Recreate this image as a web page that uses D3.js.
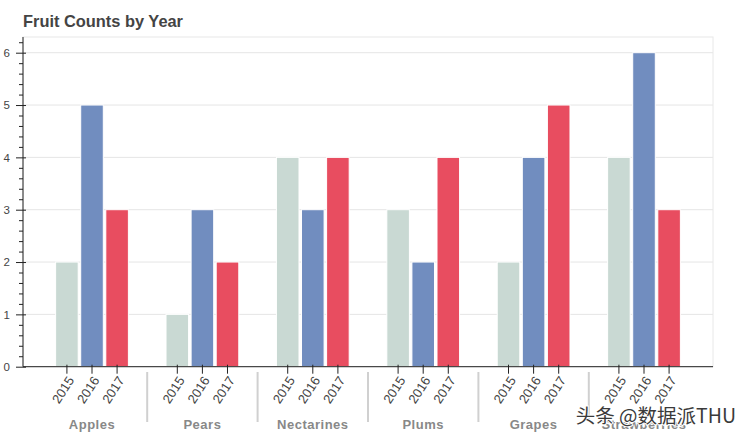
<!DOCTYPE html>
<html lang="en">
<head>
<meta charset="UTF-8">
<title>Fruit Counts by Year</title>
<script src="https://cdnjs.cloudflare.com/ajax/libs/d3/7.8.5/d3.min.js"></script>
<style>
  body { margin: 0; background: #fff; }
  svg { display: block; font-family: "Liberation Sans", Arial, Helvetica, sans-serif; }
</style>
</head>
<body>
<svg id="chart" width="750" height="437"></svg>
<script>
const fruits = ['Apples', 'Pears', 'Nectarines', 'Plums', 'Grapes', 'Strawberries'];
const years = ['2015', '2016', '2017'];
const counts2015 = [2, 1, 4, 3, 2, 4];
const counts2016 = [5, 3, 3, 2, 4, 6];
const counts2017 = [3, 2, 4, 4, 5, 3];
const yTicks = [0, 1, 2, 3, 4, 5, 6];
const colors = ['#c9d9d3', '#718dbf', '#e84d60'];

const series = [counts2015, counts2016, counts2017];
const rows = [];
fruits.forEach((f, i) => {
  years.forEach((yr, j) => rows.push({ fruit: f, year: yr, value: series[j][i], color: colors[j] }));
});

const svg = d3.select('#chart');
const plotLeft = 23, plotRight = 713, plotTop = 37, plotBottom = 366.7;

// factor range: range_padding 0.1, group padding 1.4
const x0 = d3.scaleBand()
  .domain(fruits)
  .range([plotLeft, plotRight])
  .paddingInner(1.4 / 4.4)
  .paddingOuter(1.25 / 4.4);

const x1 = d3.scaleBand()
  .domain(years)
  .range([0, x0.bandwidth()])
  .padding(0);

const y = d3.scaleLinear().domain([0, 6.3]).range([plotBottom, plotTop]);

// title
svg.append('text')
  .attr('x', 23).attr('y', 27)
  .attr('font-size', 16.4).attr('font-weight', 'bold')
  .attr('fill', '#444')
  .text('Fruit Counts by Year');

// grid
svg.append('g')
  .selectAll('line')
  .data(yTicks.slice(1))
  .enter().append('line')
  .attr('x1', plotLeft).attr('x2', plotRight)
  .attr('y1', d => y(d)).attr('y2', d => y(d))
  .attr('stroke', '#e5e5e5').attr('stroke-width', 1);

// frame outline
svg.append('rect')
  .attr('x', plotLeft).attr('y', plotTop)
  .attr('width', plotRight - plotLeft).attr('height', plotBottom - plotTop)
  .attr('fill', 'none').attr('stroke', '#e8e8e8').attr('stroke-width', 1);

// bars
const bw = x1.bandwidth() * 0.9;
svg.append('g')
  .selectAll('rect')
  .data(rows)
  .enter().append('rect')
  .attr('x', d => x0(d.fruit) + x1(d.year) + (x1.bandwidth() - bw) / 2)
  .attr('width', bw)
  .attr('y', d => y(d.value))
  .attr('height', d => y(0) - y(d.value))
  .attr('fill', d => d.color)
  .attr('stroke', '#fff').attr('stroke-width', 1);

// y axis
const minor = d3.range(0, 64, 2).map(v => v / 10).filter(v => v % 1 !== 0);
svg.append('g')
  .attr('transform', `translate(${plotLeft},0)`)
  .call(d3.axisLeft(y).tickValues(minor).tickSize(4).tickSizeOuter(0).tickFormat(''))
  .call(g => g.select('.domain').remove())
  .call(g => g.selectAll('line').attr('stroke', '#222'));

const yAxis = svg.append('g')
  .attr('transform', `translate(${plotLeft},0)`)
  .call(d3.axisLeft(y).tickValues(yTicks).tickSize(7).tickSizeOuter(0).tickPadding(6).tickFormat(d3.format('d')));
yAxis.select('.domain').attr('stroke', '#222').attr('d', `M0,${plotBottom}V${plotTop}`);
yAxis.selectAll('.tick line').attr('stroke', '#222').attr('x2', -7).attr('x1', 3);
yAxis.selectAll('.tick text').attr('font-size', 11.5).attr('fill', '#444')
  .attr('font-family', '"Liberation Sans", Arial, sans-serif');

// x axis
svg.append('line')
  .attr('x1', plotLeft).attr('x2', plotRight)
  .attr('y1', plotBottom).attr('y2', plotBottom)
  .attr('stroke', '#222');

const xt = svg.append('g')
  .selectAll('g')
  .data(rows)
  .enter().append('g')
  .attr('transform', d => `translate(${x0(d.fruit) + x1(d.year) + x1.bandwidth() / 2},${plotBottom})`);
xt.append('line').attr('y1', -2).attr('y2', 7).attr('stroke', '#222');
xt.append('text')
  .attr('transform', 'translate(4,11) rotate(-57)')
  .attr('text-anchor', 'end')
  .attr('dy', '0.35em')
  .attr('font-size', 13).attr('fill', '#444')
  .text(d => d.year);

// group separators
svg.append('g')
  .selectAll('line')
  .data(fruits.slice(1))
  .enter().append('line')
  .attr('x1', d => x0(d) - x0.step() * x0.paddingInner() / 2)
  .attr('x2', d => x0(d) - x0.step() * x0.paddingInner() / 2)
  .attr('y1', 372).attr('y2', 422)
  .attr('stroke', '#d0d0d0').attr('stroke-width', 2);

// group labels
svg.append('g')
  .selectAll('text')
  .data(fruits)
  .enter().append('text')
  .attr('x', d => x0(d) + x0.bandwidth() / 2)
  .attr('y', 429)
  .attr('text-anchor', 'middle')
  .attr('font-size', 13).attr('font-weight', 'bold')
  .attr('letter-spacing', 0.5)
  .attr('fill', '#888')
  .text(d => d);

// watermark
svg.append('text')
  .attr('x', 736).attr('y', 423)
  .attr('text-anchor', 'end')
  .attr('font-size', 19.5)
  .attr('font-family', '"Noto Sans CJK SC", sans-serif')
  .attr('fill', '#3a3a3a')
  .attr('stroke', '#fff').attr('stroke-width', 2).attr('paint-order', 'stroke')
  .text('头条 @数据派THU');
</script>
</body>
</html>
